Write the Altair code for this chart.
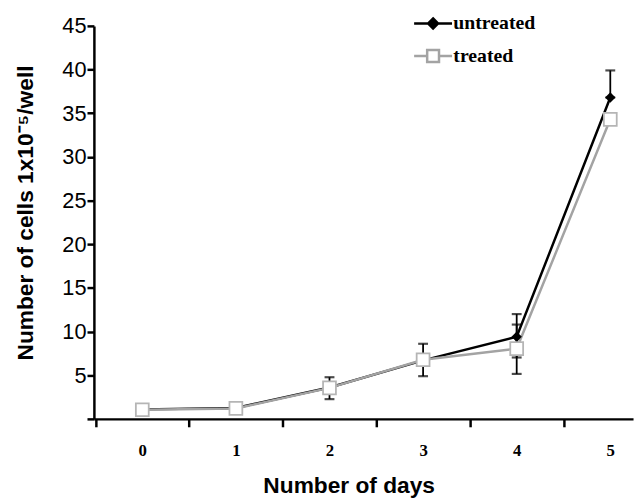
import altair as alt
import pandas as pd

# ---- data ----
days = [0, 1, 2, 3, 4, 5]
untreated = [1.09, 1.25, 3.6, 6.7, 9.4, 36.8]
treated = [1.05, 1.2, 3.55, 6.77, 8.05, 34.3]
series_names = ["untreated", "treated"]

err_days = [2, 3, 4, 4, 5]
err_low = [2.26, 4.89, 7.03, 5.15, 36.8]
err_high = [4.77, 8.6, 12.0, 10.8, 39.9]

y_ticks = [0, 5, 10, 15, 20, 25, 30, 35, 40, 45]

# ---- tables ----
rows = []
for d, u, t in zip(days, untreated, treated):
    rows.append({"day": d, "value": u, "series": "untreated"})
    rows.append({"day": d, "value": t, "series": "treated"})
df = pd.DataFrame(rows)
df_err = pd.DataFrame({"day": err_days, "lo": err_low, "hi": err_high})

GRAY_LINE = "#a3a3a3"
GRAY_BOX = "#b5b5b5"
BAND = 94.8

x_enc = alt.X(
    "day:Q",
    scale=alt.Scale(domain=[-0.517, 5.243], nice=False, zero=False),
    axis=alt.Axis(
        values=days,
        format="d",
        tickOffset=-BAND / 2,
        labelOffset=BAND / 2,
        grid=False,
        domainColor="black",
        domainWidth=2.5,
        tickColor="black",
        tickWidth=2.5,
        tickSize=8,
        labelFont="Liberation Serif",
        labelFontWeight="bold",
        labelFontSize=17,
        labelColor="black",
        labelPadding=16,
        title="Number of days",
        titleFont="Liberation Sans",
        titleFontWeight="bold",
        titleFontSize=23,
        titleColor="black",
        titlePadding=17,
        titleX=258,
        titleAlign="center",
    ),
)
y_enc = alt.Y(
    "value:Q",
    scale=alt.Scale(domain=[0, 45], nice=False),
    axis=alt.Axis(
        values=y_ticks,
        labelExpr="datum.value == 0 ? '' : datum.label",
        grid=False,
        domainColor="black",
        domainWidth=2.5,
        tickColor="black",
        tickWidth=2.5,
        tickSize=7,
        labelFont="Liberation Sans",
        labelFontSize=22,
        labelColor="black",
        labelPadding=1,
        title="Number of cells 1x10⁻⁵/well",
        titleFont="Liberation Sans",
        titleFontWeight="bold",
        titleFontSize=23,
        titleColor="black",
        titleX=-69,
        titleY=189,
        titleAlign="center",
        titleBaseline="middle",
    ),
)

base = alt.Chart(df)

line_u = base.transform_filter(alt.datum.series == "untreated").mark_line(
    color="black", strokeWidth=2.5
).encode(x=x_enc, y=y_enc)
line_t = base.transform_filter(alt.datum.series == "treated").mark_line(
    color=GRAY_LINE, strokeWidth=2.5
).encode(x="day:Q", y="value:Q")

err_base = alt.Chart(df_err)
err_rule = err_base.mark_rule(color="black", strokeWidth=1.8).encode(
    x="day:Q", y="lo:Q", y2="hi:Q"
)
cap_lo = err_base.mark_tick(orient="horizontal", color="black", thickness=2.2, size=10).encode(
    x="day:Q", y="lo:Q"
)
cap_hi = err_base.mark_tick(orient="horizontal", color="black", thickness=2.2, size=10).encode(
    x="day:Q", y="hi:Q"
)

pts_u = base.transform_filter(alt.datum.series == "untreated").mark_point(
    shape="diamond", filled=True, color="black", size=110, opacity=1
).encode(x="day:Q", y="value:Q")
pts_t = base.transform_filter(alt.datum.series == "treated").mark_point(
    shape="square", filled=True, fill="white", stroke=GRAY_BOX, strokeWidth=1.8,
    size=170, opacity=1
).encode(x="day:Q", y="value:Q")

# legend (drawn by the library from the series scale; no marks of its own)
path_u = "M-1.6,0H1.6M0,-0.42L0.42,0L0,0.42L-0.42,0Z"
path_t = "M-1.6,0H-0.5M0.5,0H1.6M-0.5,-0.5H0.5V0.5H-0.5Z"
legend = alt.Legend(
    title=None,
    orient="none",
    legendX=330,
    legendY=-16,
    padding=0,
    symbolSize=576,
    symbolStrokeWidth=2.5,
    symbolOpacity=1,
    rowPadding=9,
    labelOffset=7,
    labelFont="Liberation Serif",
    labelFontWeight="bold",
    labelFontSize=20,
    labelColor="black",
)
legend_layer = base.transform_filter("false").mark_point(filled=True, opacity=1).encode(
    x="day:Q",
    y="value:Q",
    shape=alt.Shape("series:N", scale=alt.Scale(domain=series_names, range=[path_u, path_t]), legend=legend),
    fill=alt.Fill("series:N", scale=alt.Scale(domain=series_names, range=["black", "white"]), legend=legend),
    stroke=alt.Stroke("series:N", scale=alt.Scale(domain=series_names, range=["black", GRAY_LINE]), legend=legend),
)

chart = (
    alt.layer(line_u, line_t, err_rule, cap_lo, cap_hi, pts_u, pts_t, legend_layer)
    .properties(
        width=546,
        height=398,
        autosize=alt.AutoSizeParams(type="none"),
        padding={"left": 87, "top": 15, "right": 3, "bottom": 77},
        background="white",
    )
    .configure_view(stroke=None)
)

chart.save("out.html", embed_options={"renderer": "svg", "actions": False})
